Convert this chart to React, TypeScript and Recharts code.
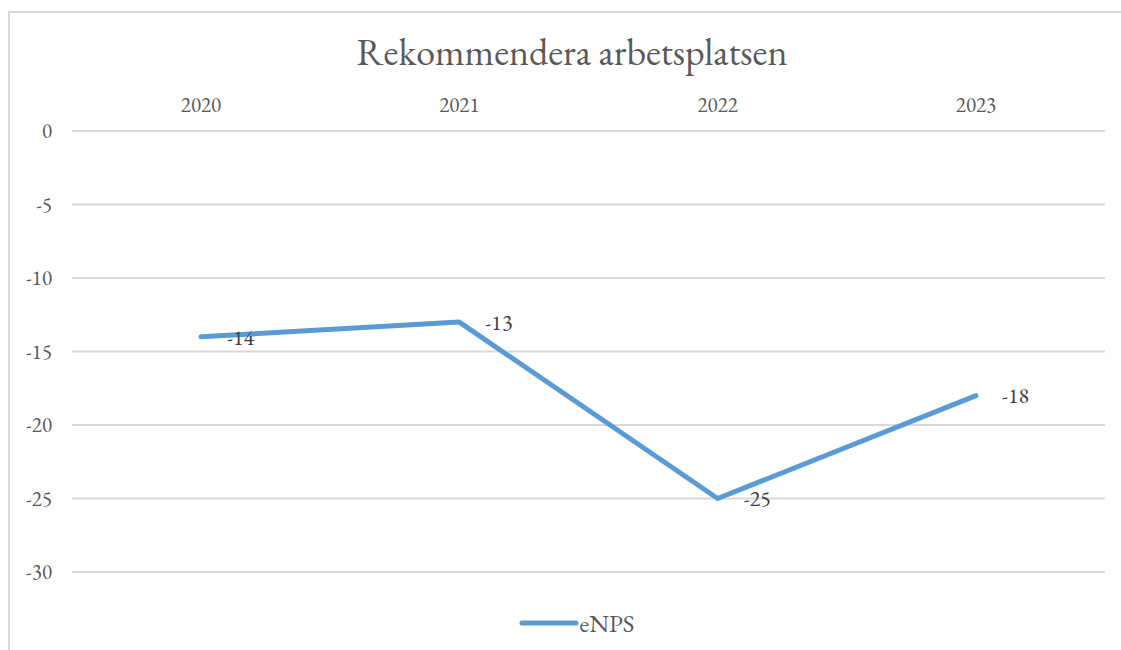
import { LineChart, Line, XAxis, YAxis, CartesianGrid, Legend, LabelList } from "recharts";

const years = ["2020", "2021", "2022", "2023"];
const enps = [-14, -13, -25, -18];
const yTicks = [0, -5, -10, -15, -20, -25, -30];

const FONT = "'EB Garamond', Garamond, 'Liberation Serif', 'Times New Roman', serif";
const GREY = "#595959";
const LINE = "#5b9bd5";

const data = years.map((year, i) => ({ year, enps: enps[i] }));

const LegendBox = () => (
  <div style={{ display: "flex", justifyContent: "center", alignItems: "center", height: 24, paddingLeft: 32 }}>
    <svg width={60} height={24}>
      <line x1={3} y1={12} x2={57} y2={12} stroke={LINE} strokeWidth={5} strokeLinecap="round" />
    </svg>
    <span style={{ fontFamily: FONT, fontSize: 25, color: GREY, marginLeft: 1 }}>eNPS</span>
  </div>
);

export default function App() {
  return (
    <div
      style={{
        position: "fixed",
        left: 0,
        top: 0,
        width: 1121,
        height: 650,
        overflow: "hidden",
        background: "#fff",
      }}
    >
      <div
        style={{
          position: "absolute",
          left: 8,
          top: 11,
          width: 1140,
          height: 680,
          border: "2px solid #d9d9d9",
        }}
      />
      <div
        style={{
          position: "absolute",
          left: 8,
          width: 1128,
          top: 30,
          textAlign: "center",
          fontFamily: FONT,
          fontSize: 38,
          color: GREY,
          lineHeight: "44px",
        }}
      >
        Rekommendera arbetsplatsen
      </div>
      <div style={{ position: "absolute", left: 0, top: 0 }}>
        <LineChart
          width={1121}
          height={650}
          data={data}
          margin={{ top: 101, right: 16, left: 12, bottom: 54 }}
        >
          <CartesianGrid vertical={false} stroke="#d9d9d9" strokeWidth={2} />
          <XAxis
            dataKey="year"
            orientation="top"
            axisLine={false}
            tickLine={false}
            tickMargin={13}
            height={30}
            padding={{ left: 129, right: 129 }}
            tick={{ fill: GREY, fontFamily: FONT, fontSize: 21 }}
          />
          <YAxis
            type="number"
            domain={[-30, 0]}
            ticks={yTicks}
            axisLine={false}
            tickLine={false}
            tickMargin={14}
            width={60}
            tick={{ fill: GREY, fontFamily: FONT, fontSize: 21 }}
          />
          <Legend
            verticalAlign="bottom"
            wrapperStyle={{ top: 611, bottom: "auto", left: 0, width: 1121 }}
            content={() => <LegendBox />}
          />
          <Line
            dataKey="enps"
            name="eNPS"
            stroke={LINE}
            strokeWidth={5}
            strokeLinecap="round"
            strokeLinejoin="round"
            dot={false}
            activeDot={false}
            isAnimationActive={false}
          >
            <LabelList
              dataKey="enps"
              position="right"
              offset={26}
              fill="#404040"
              style={{ fontFamily: FONT, fontSize: 22 }}
            />
          </Line>
        </LineChart>
      </div>
    </div>
  );
}
